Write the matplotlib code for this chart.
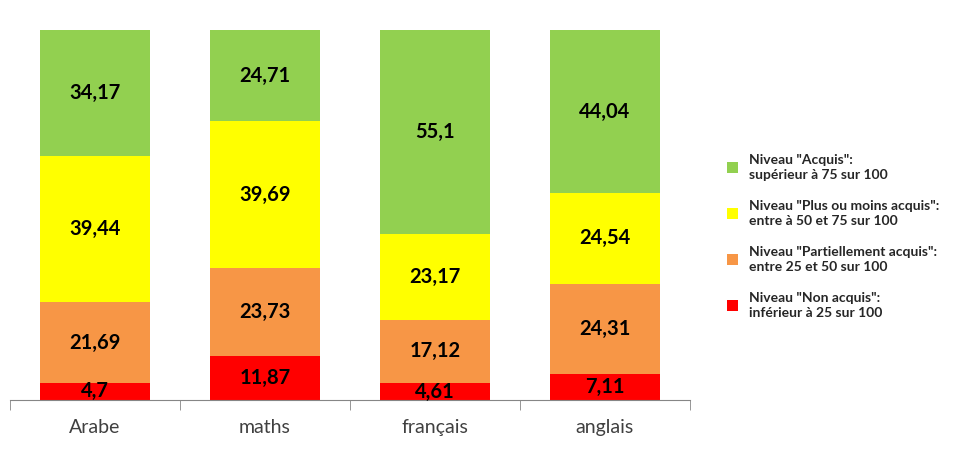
import matplotlib.pyplot as plt
import numpy as np

plt.rcParams['font.family'] = ['Lato', 'DejaVu Sans']

subjects = ['Arabe', 'maths', 'français', 'anglais']
non_acquis = [4.7, 11.87, 4.61, 7.11]
partiel = [21.69, 23.73, 17.12, 24.31]
plus_moins = [39.44, 39.69, 23.17, 24.54]
acquis = [34.17, 24.71, 55.1, 44.04]

series = [non_acquis, partiel, plus_moins, acquis]
colors = ['#FF0000', '#F79646', '#FFFF00', '#92D050']
labels = ['Niveau "Non acquis":\ninférieur à 25 sur 100',
          'Niveau "Partiellement acquis":\nentre 25 et 50 sur 100',
          'Niveau "Plus ou moins acquis":\nentre à 50 et 75 sur 100',
          'Niveau "Acquis":\nsupérieur à 75 sur 100']

fig = plt.figure(figsize=(9.56, 4.5), dpi=100)
ax = fig.add_axes([10/956, 50/450, 680/956, 370/450])

x = np.arange(len(subjects))
bottom = np.zeros(len(subjects))
handles = []
for vals, col, lab in zip(series, colors, labels):
    bars = ax.bar(x, vals, width=0.65, bottom=bottom, color=col, label=lab)
    handles.append(bars)
    for xi, b, v in zip(x, bottom, vals):
        txt = ('%g' % v).replace('.', ',')
        ax.text(xi, b + v/2, txt, ha='center', va='center',
                fontsize=14.5, fontweight='bold', color='black')
    bottom += np.array(vals)

ax.set_xlim(-0.5, len(subjects) - 0.5)
ax.set_ylim(0, 100)
for s in ['top', 'right', 'left']:
    ax.spines[s].set_visible(False)
ax.spines['bottom'].set_color('#868686')
ax.set_yticks([])
ax.set_xticks(x)
ax.set_xticklabels(subjects, fontsize=14, color='#404040')
ax.tick_params(axis='x', which='major', length=0, pad=14)
ax.set_xticks(np.arange(-0.5, len(subjects)), minor=True)
ax.tick_params(axis='x', which='minor', length=7, color='#868686', direction='out')

leg = fig.legend(handles[::-1], labels[::-1], loc='upper left',
                 bbox_to_anchor=(714/956, 1 - 142/450), frameon=False,
                 handlelength=0.85, handleheight=0.85, handletextpad=0.8,
                 labelspacing=1.4, prop={'size': 10, 'weight': 'bold'})
for t in leg.get_texts():
    t.set_color('#262626')
    t.set_linespacing(1.25)

fig.savefig('out.png', dpi=100)
